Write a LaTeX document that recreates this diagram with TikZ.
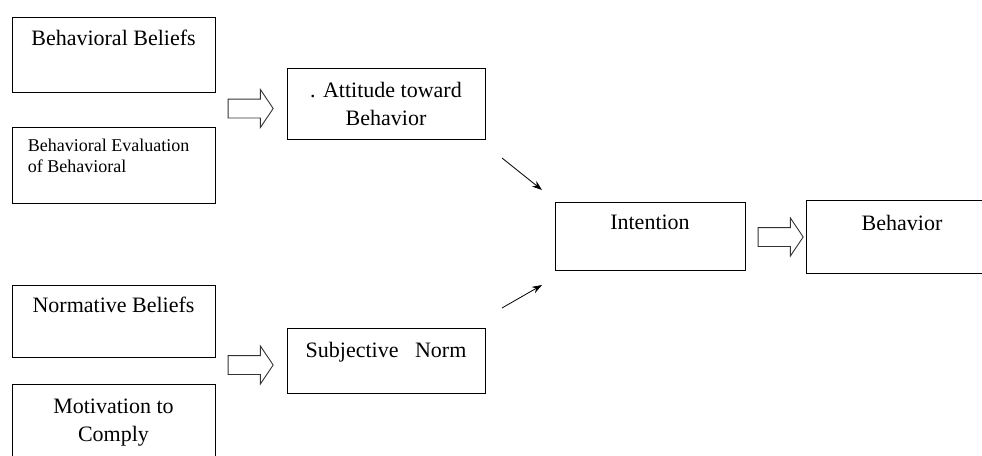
\documentclass[tikz,border=0pt]{standalone}
\usepackage{fontspec}
\setmainfont{LiberationSerif}[Extension=.ttf, UprightFont=*-Regular, BoldFont=*-Bold]
\usetikzlibrary{arrows.meta}
\usetikzlibrary{positioning}
\usetikzlibrary{shapes.arrows}

\begin{document}
\begin{tikzpicture}[x=1pt, y=-1pt, >={Stealth[length=10pt, width=7pt]},
    box/.style={draw, line width=0.8pt, inner sep=0pt},
    lbl/.style={inner sep=0pt, align=center, font=\fontsize{22}{28}\selectfont},
    small/.style={inner sep=0pt, align=left, font=\fontsize{18}{21}\selectfont},
    fat/.style={single arrow, draw=black!80, line width=0.9pt, inner xsep=0pt, inner ysep=9pt,
        minimum height=45pt, single arrow head extend=9.5pt, single arrow tip angle=112}]
    % Page frame
    \useasboundingbox (0,0) rectangle (982,455);

    % Left column of beliefs
    \node[box, minimum width=203pt, minimum height=75pt] (bb) at (113.5,54.5) {};
    \node[box, minimum width=203pt, minimum height=76pt] (be) at (113.5,165) {};
    \node[box, minimum width=203pt, minimum height=72pt] (nb) at (113.5,321) {};
    \node[box, minimum width=203pt, minimum height=76pt] (mc) at (113.5,422) {};

    % Their texts
    \node[lbl, below=13pt of bb.north] {Behavioral Beliefs};
    \node[small, below right=12.5pt and 16pt of be.north west] {Behavioral Evaluation\\of Behavioral};
    \node[lbl, below=12pt of nb.north] {Normative Beliefs};
    \node[lbl, below=15pt of mc.north] {Motivation to\\Comply};

    % Middle column
    \node[box, minimum width=198pt, minimum height=71pt] (att) at (386,103.5) {};
    \node[box, minimum width=198pt, minimum height=65pt] (sn) at (386,360.5) {};
    \node[lbl, below=14pt of att.north] {. Attitude toward\\Behavior};
    \node[lbl, below=14pt of sn.north] {Subjective\ \ \ Norm};

    % Intention and behavior
    \node[box, minimum width=190pt, minimum height=68pt] (int) at (650,236) {};
    \node[box, minimum width=192pt, minimum height=73pt] (beh) at (902,236.5) {};
    \node[lbl, below=13pt of int.north] {Intention};
    \node[lbl, below=15pt of beh.north] {Behavior};

    % Hollow block arrows
    \node[fat] (f1) at (247.5,108.5) {};
    \node[fat] (f2) at (247.5,365) {};
    \node[fat] (f3) at (777.5,237) {};

    % Thin arrows towards the intention
    \coordinate (T1) at (502,158);
    \coordinate (H1) at (542,190);
    \coordinate (T2) at (502,308);
    \coordinate (H2) at (542,285);
    \draw[->, line width=0.8pt] (T1) -- (H1);
    \draw[->, line width=0.8pt] (T2) -- (H2);
\end{tikzpicture}
\end{document}
